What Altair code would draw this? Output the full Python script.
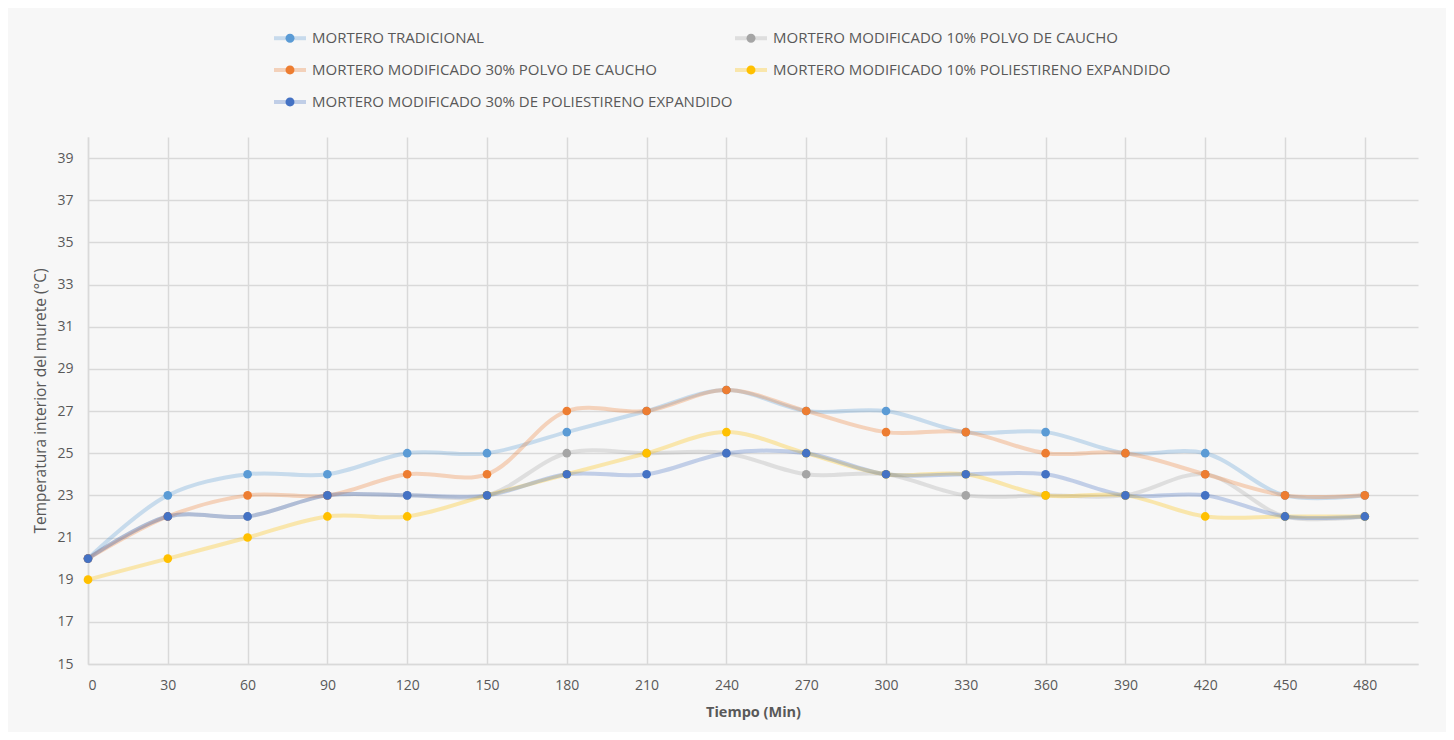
import altair as alt
import pandas as pd

tiempo = [0, 30, 60, 90, 120, 150, 180, 210, 240, 270, 300, 330, 360, 390, 420, 450, 480]
series = [
    "MORTERO TRADICIONAL",
    "MORTERO MODIFICADO 10% POLVO DE CAUCHO",
    "MORTERO MODIFICADO 30% POLVO DE CAUCHO",
    "MORTERO MODIFICADO 10% POLIESTIRENO EXPANDIDO",
    "MORTERO MODIFICADO 30% DE POLIESTIRENO EXPANDIDO",
]
colors = ["#5B9BD5", "#A5A5A5", "#ED7D31", "#FFC000", "#4472C4"]

tradicional = [20, 23, 24, 24, 25, 25, 26, 27, 28, 27, 27, 26, 26, 25, 25, 23, 23]
caucho10 = [20, 22, 22, 23, 23, 23, 25, 25, 25, 24, 24, 23, 23, 23, 24, 22, 22]
caucho30 = [20, 22, 23, 23, 24, 24, 27, 27, 28, 27, 26, 26, 25, 25, 24, 23, 23]
polies10 = [19, 20, 21, 22, 22, 23, 24, 25, 26, 25, 24, 24, 23, 23, 22, 22, 22]
polies30 = [20, 22, 22, 23, 23, 23, 24, 24, 25, 25, 24, 24, 24, 23, 23, 22, 22]

y_ticks = [15, 17, 19, 21, 23, 25, 27, 29, 31, 33, 35, 37, 39]

rows = []
for name, vals in zip(series, [tradicional, caucho10, caucho30, polies10, polies30]):
    for t, v in zip(tiempo, vals):
        rows.append({"serie": name, "serie2": name, "tiempo": t, "temp": v})
df = pd.DataFrame(rows)

FONT = "Open Sans"
GREY = "#595959"

x_enc = alt.X("tiempo:Q", scale=alt.Scale(domain=[0, 500], nice=False),
              axis=alt.Axis(values=tiempo, title="Tiempo (Min)", format="d"))
y_enc = alt.Y("temp:Q", scale=alt.Scale(domain=[15, 40], nice=False, zero=False),
              axis=alt.Axis(values=y_ticks, title="Temperatura interior del murete (°C)"))

common_legend = dict(
    title=None, orient="none", legendX=184, legendY=-117, columns=2,
    direction="horizontal",
    symbolSize=1024, symbolStrokeWidth=4,
    labelFontSize=15, labelFont=FONT, labelOffset=4,
    rowPadding=0, columnPadding=-10, labelLimit=0, padding=0,
)

# both symbol paths share the same bounding box (and stroke width) so the
# two overlaid legends lay out identically
line_path = "M0,-0.35M0,0.35M-1,0L1,0"
circle_path = ("M-1,-0.35M1,0.35"
               "M-0.28,0A0.28,0.28,0,1,1,0.28,0A0.28,0.28,0,1,1,-0.28,0Z")

lines = alt.Chart(df).mark_line(interpolate="catmull-rom", strokeWidth=4, opacity=0.3).encode(
    x=x_enc, y=y_enc,
    stroke=alt.Stroke("serie:N", scale=alt.Scale(domain=series, range=colors),
                      legend=alt.Legend(symbolType=line_path,
                                        symbolOpacity=0.3, labelOpacity=0,
                                        **common_legend)),
)

points = alt.Chart(df).mark_point(filled=True, size=75, opacity=1).encode(
    x=x_enc, y=y_enc,
    fill=alt.Fill("serie2:N", scale=alt.Scale(domain=series, range=colors),
                  legend=alt.Legend(symbolType=circle_path, symbolStrokeColor="transparent",
                                    symbolOpacity=1, labelColor=GREY,
                                    **common_legend)),
)

chart = alt.layer(lines, points).resolve_scale(stroke="independent", fill="independent").properties(
    width=1330, height=527,
    autosize=alt.AutoSizeParams(type="none"),
    padding={"left": 80, "top": 129, "right": 28, "bottom": 68},
    background="#f7f7f7",
).configure_view(stroke=None).configure_axis(
    grid=True, gridColor="#d9d9d9", gridWidth=1.5,
    domainColor="#d9d9d9", domainWidth=1.5, ticks=False,
    labelFont=FONT, labelFontSize=14, labelColor=GREY,
    titleFont=FONT, titleFontSize=14.5, titleColor=GREY, titleFontWeight="bold",
).configure_axisX(labelPadding=14, titlePadding=13).configure_axisY(
    labelPadding=15, titlePadding=8, titleFontWeight="normal", titleFontSize=15.5
)

chart.save("out.html", embed_options={"renderer": "svg", "actions": False})
